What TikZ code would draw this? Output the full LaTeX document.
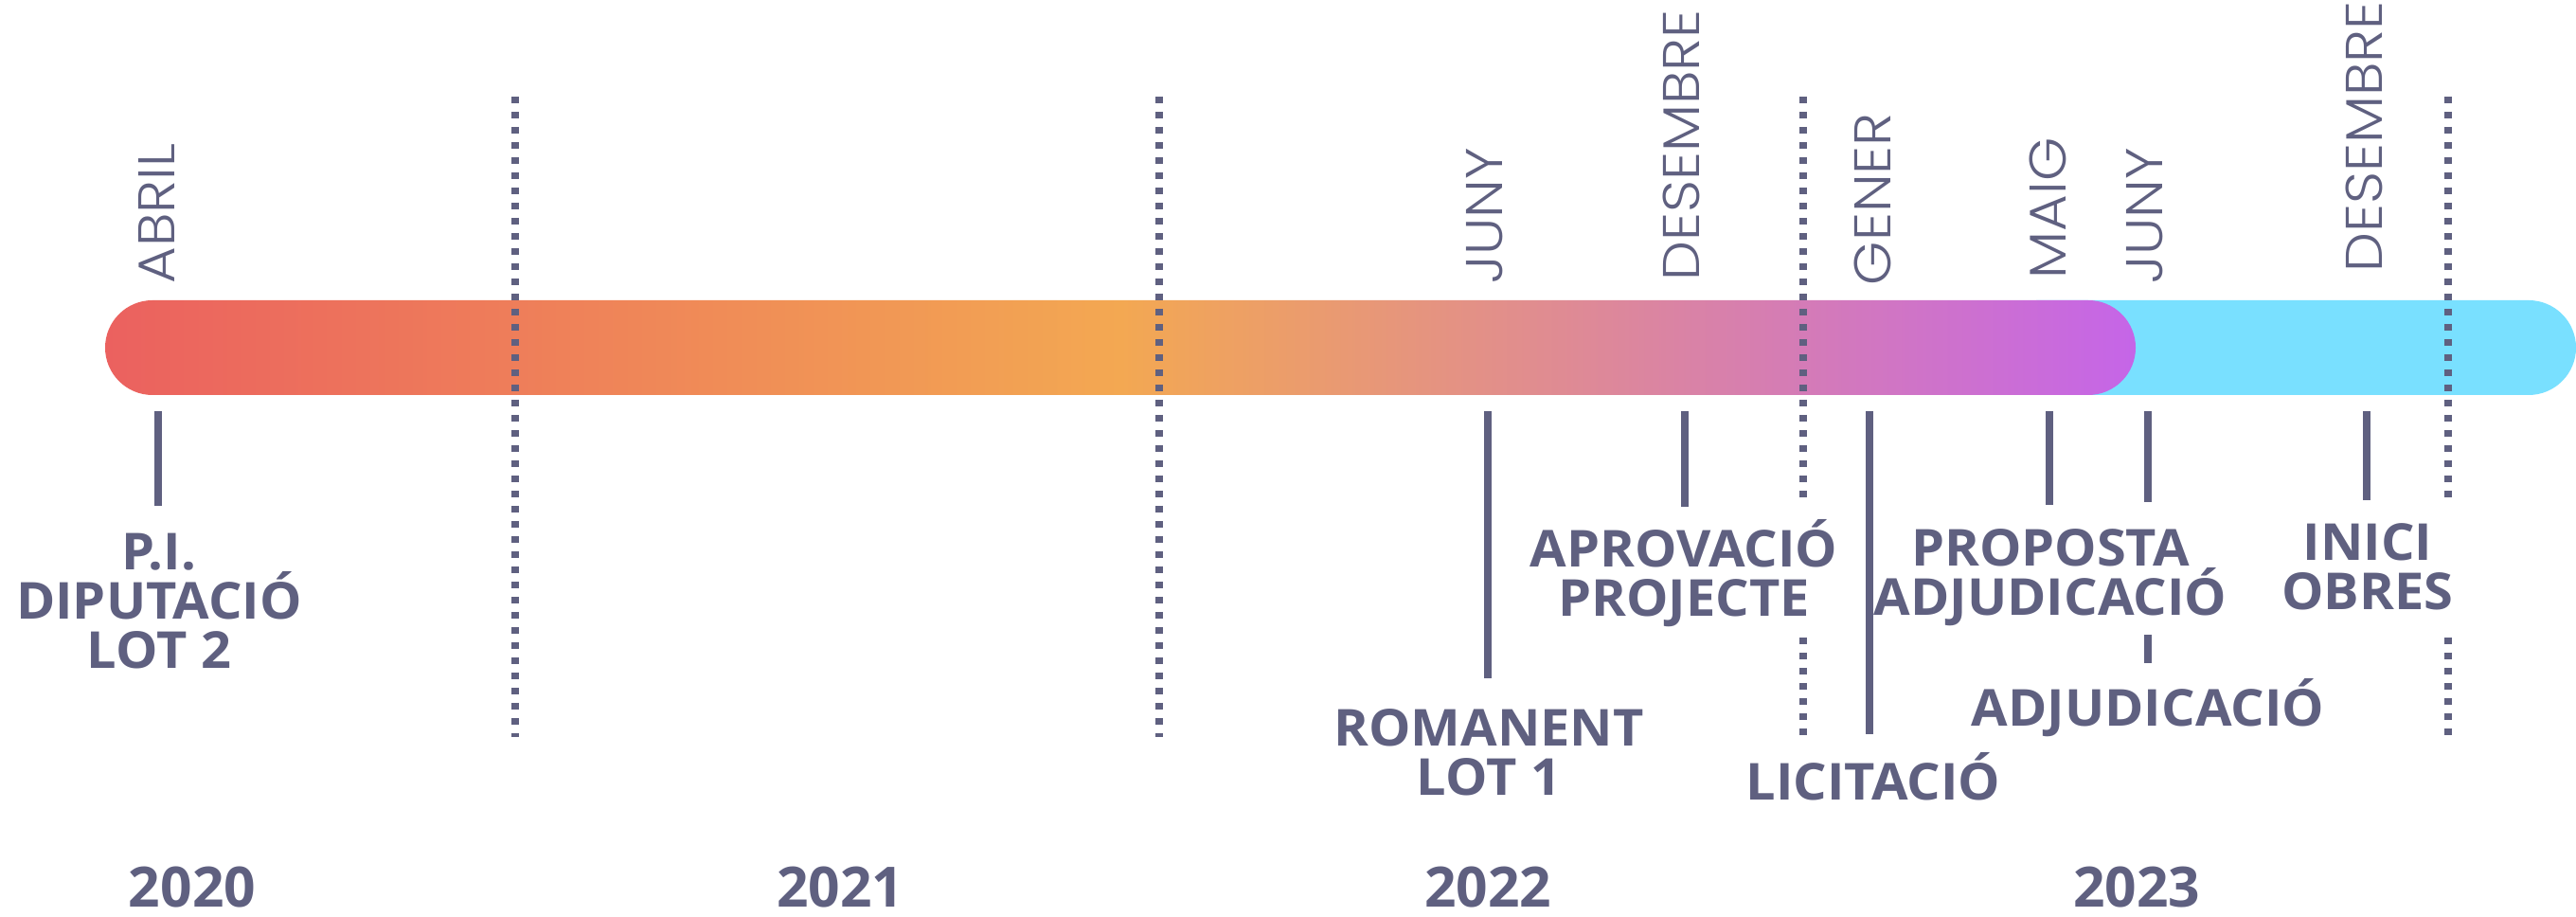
\documentclass[tikz,border=0pt]{standalone}
\usepackage{fontspec}
\setmainfont{Open Sans}
\newfontfamily\monthfont{Poppins Light}[FakeStretch=1.09]
\newfontfamily\eventfont{Open Sans}[FakeStretch=1.04]
\definecolor{ink}{RGB}{95,96,128}
\definecolor{barred}{RGB}{235,97,95}
\definecolor{barorange}{RGB}{243,168,82}
\definecolor{barpurple}{RGB}{197,101,232}
\definecolor{barcyan}{RGB}{121,224,255}

\begin{document}
\begin{tikzpicture}[x=1mm,y=1mm,
  month/.style={font=\monthfont\fontsize{15.5}{18}\selectfont, text=ink, rotate=90, anchor=west, inner sep=0pt},
  event/.style={font=\eventfont\bfseries\fontsize{15.3}{14.8}\selectfont, text=ink, align=center, anchor=base, inner sep=0pt},
  yearlab/.style={font=\bfseries\fontsize{16.7}{20}\selectfont, text=ink, anchor=base, inner sep=0pt},
  tick/.style={ink, line width=0.75mm},
  yearline/.style={ink, line width=0.8mm, dash pattern=on 0.7mm off 0.9mm}]
\useasboundingbox (0,0) rectangle (272,96.8);
% the bar
\fill[barcyan] (215,55.1) -- (267,55.1) arc (-90:90:5) -- (215,65.1) -- cycle;
\shade[left color=barred, right color=barpurple, middle color=barorange] (16.1,55.1) -- (220.5,55.1) arc (-90:90:5) -- (16.1,65.1) arc (90:270:5) -- cycle;
% year limits
\foreach \x in {54.4,122.4}
  \draw[yearline] (\x,86.6) -- (\x,19);
\foreach \x in {190.4,258.5}{
  \draw[yearline] (\x,86.6) -- (\x,44);
  \draw[yearline] (\x,29.5) -- (\x,19);
}
% ticks
\foreach \x/\b in {16.7/43.4,157.1/25.2,177.9/43.3,197.4/19.3,216.4/43.5,226.8/43.8,249.9/44.0}
  \draw[tick] (\x,53.4) -- (\x,\b);
\draw[tick] (226.8,29.8) -- (226.8,26.8);
% months
\node[month] (abril) at (16.5,66.8) {ABRIL};
\node[month] (juny) at (156.8,66.8) {JUNY};
\node[month] (desembre) at (177.5,67.1) {DESEMBRE};
\node[month] (gener) at (197.7,66.6) {GENER};
\node[month] (maig) at (216.2,67.3) {MAIG};
\node[month] (junyb) at (226.5,66.8) {JUNY};
\node[month] (desembreb) at (249.6,68.0) {DESEMBRE};
% events (base = last line)
\node[event] (pi) at (16.8,26.2) {P.I.\\DIPUTACIÓ\\LOT 2};
\node[event] (aprov) at (177.8,31.7) {APROVACIÓ\\PROJECTE};
\node[event] (prop) at (216.5,31.8) {PROPOSTA\\ADJUDICACIÓ};
\node[event] (inici) at (250.0,32.4) {INICI\\OBRES};
\node[event] (adj) at (226.8,20.1) {ADJUDICACIÓ};
\node[event] (roman) at (157.2,12.8) {ROMANENT\\LOT 1};
\node[event] (licit) at (197.8,12.3) {LICITACIÓ};
% years
\node[yearlab] (y2020) at (20.3,1.0) {2020};
\node[yearlab] (y2021) at (88.7,1.0) {2021};
\node[yearlab] (y2022) at (157.1,1.0) {2022};
\node[yearlab] (y2023) at (225.6,1.0) {2023};
\end{tikzpicture}
\end{document}
